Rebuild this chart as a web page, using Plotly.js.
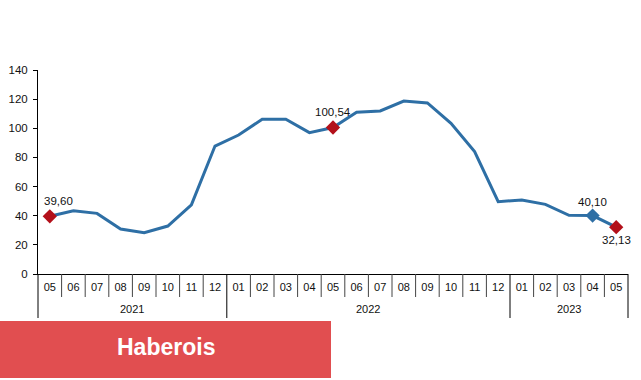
<!DOCTYPE html>
<html>
<head>
<meta charset="utf-8">
<script src="https://cdn.plot.ly/plotly-3.0.1.min.js"></script>
<style>html,body{margin:0;padding:0;background:#fff;}#chart{width:641px;height:380px;}</style>
</head>
<body>
<div id="chart"></div>
<script>
var years  = ['2021','2021','2021','2021','2021','2021','2021','2021',
              '2022','2022','2022','2022','2022','2022','2022','2022','2022','2022','2022','2022',
              '2023','2023','2023','2023','2023'];
var months = ['05','06','07','08','09','10','11','12',
              '01','02','03','04','05','06','07','08','09','10','11','12',
              '01','02','03','04','05'];
var values = [39.60,43.4,41.6,30.9,28.4,32.9,47.4,87.8,
              95.4,106.2,106.2,97.0,100.54,111.0,111.9,118.7,117.4,103.4,84.0,49.6,
              50.8,47.8,40.3,40.10,32.13];
var yTicks = [0,20,40,60,80,100,120,140];

// highlighted points (indices into the arrays above) and their labels
var hlIdx   = [0, 12, 23, 24];
var hlText  = ['39,60','100,54','40,10','32,13'];
var hlColor = ['#B3101A','#B3101A','#2E6FA5','#B3101A'];
var hlShiftX = [9, 0, 0, 0];
var hlShiftY = [15, 16, 14, -13];

var lineColor = '#2E6FA5';
var N = months.length;
var idx = months.map(function(m, i){ return i; });

var traces = [{
  type:'scatter', mode:'lines',
  x:idx, y:values,
  line:{color:lineColor, width:3},
  hoverinfo:'skip'
},{
  type:'scatter', mode:'markers',
  x:hlIdx, y:hlIdx.map(function(i){ return values[i]; }),
  marker:{symbol:'diamond', size:11, color:hlColor},
  cliponaxis:false,
  hoverinfo:'skip'
}];

var W = 641, H = 380, L = 38, R = 13, T = 70, B = 106;
var pw = W - L - R, ph = H - T - B;
function px(x){ return (x - L) / pw; }
function py(y){ return (H - B - y) / ph; }
function bx(b){ return b / N; }   // category boundary -> paper x

var shapes = [];
var annotations = [];

// month separators
for (var i = 1; i < N; i++) {
  if (years[i] === years[i-1]) {
    shapes.push({type:'line', xref:'paper', yref:'paper',
      x0:bx(i), x1:bx(i), y0:0, y1:py(297),
      line:{color:'#444', width:1}});
  }
}
// year dividers + year labels
var start = 0;
for (var j = 0; j <= N; j++) {
  if (j === N || years[j] !== years[start]) {
    annotations.push({xref:'paper', yref:'paper', x:bx((start + j) / 2), y:py(309),
      text:years[start], showarrow:false, xanchor:'center', yanchor:'middle',
      font:{size:11, color:'#111'}});
    start = j;
  }
}
var starts = [0];
for (var k = 1; k < N; k++) { if (years[k] !== years[k-1]) starts.push(k); }
starts.push(N);
starts.forEach(function(b){
  shapes.push({type:'line', xref:'paper', yref:'paper',
    x0:bx(b), x1:bx(b), y0:0, y1:py(318),
    line:{color:'#000', width:1}});
});

// data labels
hlIdx.forEach(function(i, n){
  annotations.push({x:i, y:values[i], xref:'x', yref:'y', text:hlText[n],
    showarrow:false, xanchor:'center', yanchor:'middle',
    xshift:hlShiftX[n], yshift:hlShiftY[n],
    font:{size:11.5, color:'#111'}});
});

// brand box
shapes.push({type:'rect', xref:'paper', yref:'paper',
  x0:px(0), x1:px(331), y0:py(378), y1:py(321),
  fillcolor:'#E14E50', line:{width:0}});
annotations.push({xref:'paper', yref:'paper', x:px(166), y:py(347),
  text:'<b>Haberois</b>', showarrow:false,
  font:{size:23, color:'#fff'}, xanchor:'center', yanchor:'middle'});

var layout = {
  width:W, height:H,
  margin:{l:L, r:R, t:T, b:B},
  paper_bgcolor:'#fff', plot_bgcolor:'#fff',
  showlegend:false,
  font:{family:'Liberation Sans, Arial, sans-serif', size:11, color:'#111'},
  xaxis:{
    range:[-0.5, N - 0.5], tickvals:idx, ticktext:months,
    showline:true, linecolor:'#000', linewidth:1,
    ticks:'', ticklabelstandoff:3,
    showgrid:false, zeroline:false,
    tickfont:{size:11, color:'#111'}
  },
  yaxis:{
    range:[0,140], tickvals:yTicks,
    showline:true, linecolor:'#000', linewidth:1,
    ticks:'outside', ticklen:4, tickcolor:'#000',
    ticklabelstandoff:3,
    showgrid:false, zeroline:false,
    tickfont:{size:11.5, color:'#111'}
  },
  shapes:shapes,
  annotations:annotations
};

Plotly.newPlot('chart', traces, layout, {staticPlot:true, displayModeBar:false});
</script>
</body>
</html>
